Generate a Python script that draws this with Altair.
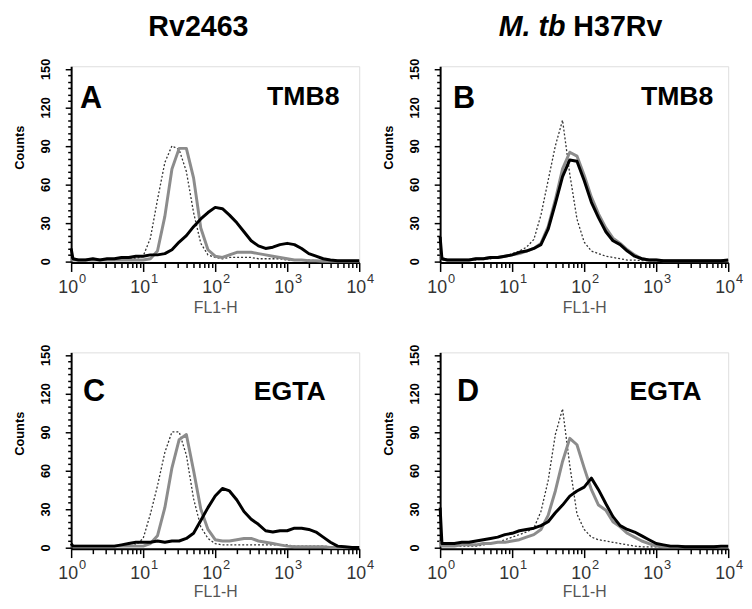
import altair as alt
import pandas as pd

# FL1-H channel positions (log-spaced bins)
FL = [1, 1.06, 1.26, 1.58, 2, 2.51, 3.16, 3.98, 5.01, 6.31, 7.94,
      10, 12.6, 15.8, 20, 25.1, 31.6, 39.8, 50.1, 63.1, 79.4,
      100, 126, 158, 200, 251, 316, 398, 501, 631, 794,
      1000, 1259, 1585, 1995, 2512, 3162, 3981, 5012, 6310, 7943, 10000]

A_dotted = [2, 1,
            1, 1, 1, 1, 1, 1, 1, 2, 2,
            4, 18, 48, 77, 90, 87, 70, 38, 14, 5,
            3, 2, 3, 3, 3, 3, 2, 2, 2, 2,
            1, 1, 1, 1, 0.5, 0.5, 0.5, 0, 0, 0,
            0]
A_gray = [1, 1,
          1, 1, 1, 1, 1, 1, 1, 1, 1,
          1, 2, 8, 35, 72, 88, 88, 65, 26, 9,
          4, 3, 5, 7, 7, 7, 6, 5, 4, 3,
          2, 1, 1, 0.5, 0.5, 0, 0, 0, 0, 0,
          0]
A_black = [10, 2,
           1, 1, 2, 1, 2, 2, 3, 3, 4,
           4, 5, 5, 6, 9, 15, 20, 27, 33, 38,
           42, 41, 36, 30, 23, 16, 12, 10, 11, 13,
           14, 13, 10, 6, 4, 2, 1, 0.5, 0.5, 0.5,
           0.5]

B_dotted = [3, 1,
            1, 1, 1, 1, 1, 2, 2, 3, 4,
            6, 8, 11, 17, 36, 63, 90, 110, 68, 33,
            15, 8, 6, 4, 3, 2, 1, 1, 0.5, 0.5,
            0.5, 0, 0, 0, 0, 0, 0, 0, 0, 0,
            0]
B_gray = [10, 2,
          1, 1, 1, 1, 2, 2, 3, 3, 4,
          5, 6, 8, 10, 14, 27, 48, 72, 85, 82,
          67, 50, 37, 26, 18, 14, 9, 5, 2, 1,
          1, 0.5, 0.5, 0.5, 0.5, 0.5, 0.5, 0.5, 0.5, 0.5,
          0.5]
B_black = [19, 2,
           1, 1, 1, 1, 2, 2, 3, 3, 4,
           5, 7, 8, 10, 13, 25, 45, 66, 79, 78,
           63, 46, 34, 23, 16, 13, 8, 4, 2, 1,
           1, 0.5, 0.5, 0.5, 0.5, 0.5, 0.5, 0.5, 0.5, 0.5,
           1]

C_dotted = [1, 1,
            1, 1, 1, 1, 1, 1, 1, 1, 2,
            7, 26, 48, 74, 90, 90, 72, 38, 16, 7,
            3, 2, 2, 2, 2, 2, 2, 2, 2, 2,
            2, 1, 1, 1, 1, 1, 0.5, 0.5, 0.5, 0.5,
            0.5]
C_gray = [1, 1,
          1, 1, 1, 1, 1, 1, 1, 1, 1,
          1, 3, 9, 31, 62, 84, 88, 60, 30, 14,
          6, 5, 5, 6, 7, 7, 5, 4, 3, 2,
          1, 0.5, 0.5, 0.5, 0.5, 0.5, 0, 0, 0, 0,
          0]
C_black = [3, 1,
           1, 1, 1, 1, 1, 1, 2, 3, 4,
           4, 4, 5, 4, 5, 5, 7, 11, 21, 31,
           40, 46, 44, 37, 28, 22, 18, 13, 12, 13,
           13, 15, 15, 14, 12, 8, 4, 1, 0.5, 0,
           0]

D_dotted = [2, 1,
            1, 1, 1, 1, 1, 2, 3, 4, 6,
            8, 10, 12, 15, 28, 52, 88, 108, 64, 26,
            14, 8, 6, 5, 4, 3, 2, 1, 0.5, 0.5,
            0.5, 0, 0, 0, 0, 0, 0, 0, 0, 0,
            0]
D_gray = [5, 1,
          1, 1, 2, 2, 2, 3, 3, 4, 4,
          5, 6, 8, 10, 14, 25, 44, 67, 85, 80,
          62, 45, 33, 29, 20, 16, 11, 8, 5, 3,
          1, 0.5, 0.5, 0.5, 0.5, 0.5, 0.5, 0.5, 0.5, 0.5,
          0.5]
D_black = [31, 3,
           3, 3, 4, 4, 5, 6, 7, 8, 10,
           11, 13, 14, 15, 17, 20, 27, 33, 40, 44,
           47, 54, 45, 34, 24, 17, 14, 12, 9, 6,
           3, 2, 1, 1, 0.5, 0.5, 0.5, 0.5, 0.5, 1,
           1]

DECADES = [1, 10, 100, 1000, 10000]
DECADE_BASE = ["10", "10", "10", "10", "10"]
DECADE_EXP = ["0", "1", "2", "3", "4"]
X_TICKS = [m * d for d in [1, 10, 100, 1000] for m in range(1, 10)] + [10000]
Y_TICKS = list(range(0, 151, 5))

COL_TITLES = ["Rv2463", "M. tb", "H37Rv"]
PANEL_LETTERS = ["A", "B", "C", "D"]
CONDITIONS = ["TMB8", "TMB8", "EGTA", "EGTA"]

W, H = 292, 199
FONT = "Liberation Sans, Arial, Helvetica, sans-serif"
NARROW = "Liberation Sans Narrow, Arial Narrow, Liberation Sans, sans-serif"


def x_axis(title_y):
    return alt.Axis(
        values=X_TICKS, labels=False, grid=False,
        tickSize={"condition": {"test": "indexof([1,10,100,1000,10000], datum.value) >= 0", "value": 9},
                  "value": 5},
        tickWidth=1.5, tickColor="black", domainWidth=2, domainColor="black",
        title="FL1-H", titleFont=FONT, titleFontSize=16, titleFontWeight="normal",
        titleColor="#555555", titleY=title_y, titleX=W / 2, titleBaseline="top", titleAlign="center",
    )


Y_AXIS = alt.Axis(
    values=Y_TICKS, grid=False,
    labelExpr="datum.value % 30 == 0 ? datum.label : ''",
    tickSize={"condition": {"test": "datum.value % 30 == 0", "value": 6}, "value": 3.5},
    tickWidth=1.5, tickColor="black", domainWidth=2, domainColor="black",
    labelAngle=270, labelAlign="center", labelBaseline="middle", labelPadding=20,
    labelFont=NARROW, labelFontSize=13, labelFontWeight="bold", labelColor="black",
    labelOverlap=False, labelFlush=False,
    title="Counts", titleFont=NARROW, titleFontSize=13, titleFontWeight="bold",
    titleColor="black", titleAngle=270, titleAlign="center", titleBaseline="middle",
    titleX=-52, titleY=82,
)
XS = alt.Scale(type="log", domain=[1, 10000])
YS = alt.Scale(domain=[-1, 152])


def panel(dotted, gray, black, letter, cond, lx, ly, cx, cy, title_y, col_title=None):
    xa = x_axis(title_y)

    def xenc():
        return alt.X("fl:Q", scale=XS, axis=xa)

    def yenc():
        return alt.Y("count:Q", scale=YS, axis=Y_AXIS)

    df = pd.DataFrame({
        "fl": FL * 3,
        "count": dotted + gray + black,
        "series": ["dotted"] * len(FL) + ["gray"] * len(FL) + ["black"] * len(FL),
    })
    base = alt.Chart(df)
    l_dot = base.transform_filter(alt.datum.series == "dotted").mark_line(
        color="#333333", strokeWidth=1.3, strokeDash=[2, 2]
    ).encode(x=xenc(), y=yenc())
    l_gray = base.transform_filter(alt.datum.series == "gray").mark_line(
        color="#8c8c8c", strokeWidth=3, strokeJoin="round"
    ).encode(x=xenc(), y=yenc())
    l_black = base.transform_filter(alt.datum.series == "black").mark_line(
        color="black", strokeWidth=3, strokeJoin="round"
    ).encode(x=xenc(), y=yenc())

    dec = pd.DataFrame({"fl": DECADES, "base": DECADE_BASE, "exp": DECADE_EXP})
    t_base = alt.Chart(dec).mark_text(
        align="right", baseline="alphabetic", dx=7, fontSize=18, font=FONT, color="#333333"
    ).encode(x=xenc(), y=alt.value(H + 31), text="base:N")
    t_exp = alt.Chart(dec).mark_text(
        align="left", baseline="alphabetic", dx=8, fontSize=13, font=FONT, color="#333333"
    ).encode(x=xenc(), y=alt.value(H + 21), text="exp:N")

    lab = pd.DataFrame({"t": [letter], "c": [cond]})
    t_letter = alt.Chart(lab).mark_text(
        align="left", baseline="alphabetic", fontSize=31, fontWeight="bold", font=FONT, color="black"
    ).encode(x=alt.value(lx), y=alt.value(ly), text="t:N")
    t_cond = alt.Chart(lab).mark_text(
        align="right", baseline="alphabetic", fontSize=27, fontWeight="bold", font=FONT, color="black"
    ).encode(x=alt.value(cx), y=alt.value(cy), text="c:N")

    layers = [l_dot, l_gray, l_black, t_base, t_exp, t_letter, t_cond]
    if col_title == "left":
        tt = pd.DataFrame({"t": [COL_TITLES[0]]})
        layers.append(alt.Chart(tt).mark_text(
            align="center", baseline="alphabetic", fontSize=29, fontWeight="bold", font=FONT, color="black"
        ).encode(x=alt.value(129), y=alt.value(-31), text="t:N"))
    elif col_title == "right":
        t1 = pd.DataFrame({"t": [COL_TITLES[1]]})
        t2 = pd.DataFrame({"t": [COL_TITLES[2]]})
        layers.append(alt.Chart(t1).mark_text(
            align="right", baseline="alphabetic", fontSize=29, fontWeight="bold", fontStyle="italic",
            font=FONT, color="black"
        ).encode(x=alt.value(127), y=alt.value(-31), text="t:N"))
        layers.append(alt.Chart(t2).mark_text(
            align="left", baseline="alphabetic", fontSize=29, fontWeight="bold", font=FONT, color="black"
        ).encode(x=alt.value(135), y=alt.value(-31), text="t:N"))
    return alt.layer(*layers).properties(width=W, height=H)


pA = panel(A_dotted, A_gray, A_black, PANEL_LETTERS[0], CONDITIONS[0], 9, 42, 272, 39, 38, "left")
pB = panel(B_dotted, B_gray, B_black, PANEL_LETTERS[1], CONDITIONS[1], 13, 42, 277, 39, 38, "right")
pC = panel(C_dotted, C_gray, C_black, PANEL_LETTERS[2], CONDITIONS[2], 12, 49, 258, 48, 35)
pD = panel(D_dotted, D_gray, D_black, PANEL_LETTERS[3], CONDITIONS[3], 17, 49, 265, 48, 35)

top = alt.hconcat(pA, pB, spacing=7)
bottom = alt.hconcat(pC, pD, spacing=7)
chart = alt.vconcat(top, bottom, spacing=27).properties(
    padding={"left": 5, "top": 0, "right": 0, "bottom": 0}
).configure_view(stroke="black", strokeWidth=1.2).configure(background="white")

chart.save("out.html", embed_options={"renderer": "svg", "actions": False})
